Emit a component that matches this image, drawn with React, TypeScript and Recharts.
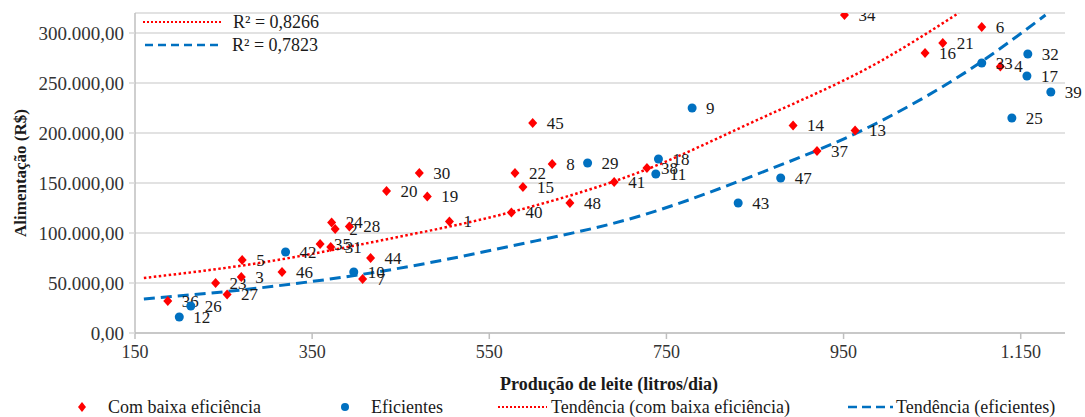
import { ComposedChart, Scatter, Line, XAxis, YAxis, CartesianGrid } from 'recharts';

// farms with low efficiency (red diamonds)
const lowIds = [36, 23, 27, 3, 5, 46, 35, 31, 24, 2, 28, 44, 7, 20, 30, 19, 1, 45, 8, 22, 15, 40, 41, 38, 48, 14, 37, 13, 34, 16, 21, 6, 4];
const lowX = [187, 241, 254, 270, 271, 316, 359, 371, 372, 376, 392, 416, 407, 434, 471, 480, 505, 599, 621, 579, 588, 575, 691, 728, 641, 893, 920, 963, 951, 1042, 1062, 1106, 1127];
const lowY = [32000, 50000, 38500, 56000, 73000, 61000, 89000, 86000, 110500, 104000, 106500, 75000, 54000, 142000, 160000, 136500, 111500, 210000, 169000, 160000, 146000, 120500, 151000, 165000, 130000, 207500, 182000, 202500, 318000, 280000, 290000, 306000, 266500];

// efficient farms (blue circles)
const effIds = [12, 26, 42, 10, 29, 11, 18, 9, 43, 47, 33, 32, 17, 39, 25];
const effX = [200, 213, 320, 397, 661, 738, 741, 779, 831, 879, 1106, 1158, 1157, 1184, 1140];
const effY = [16000, 27000, 81000, 61000, 170000, 159000, 174000, 225000, 130000, 155000, 270000, 279000, 257000, 241000, 215000];

// trend lines
const lowTrendX = [160, 290, 430, 575, 720, 850, 990, 1080];
const lowTrendY = [55000, 70000, 93000, 121000, 161000, 212000, 271000, 320000];
const effTrendX = [160, 290, 430, 575, 720, 850, 990, 1090, 1178];
const effTrendY = [34000, 45000, 62000, 87000, 117000, 158000, 211000, 262000, 318000];

const xTicks = [150, 350, 550, 750, 950, 1150];
const yTicks = [0, 50000, 100000, 150000, 200000, 250000, 300000];

const lowData = lowIds.map((id, i) => ({ id, x: lowX[i], y: lowY[i] }));
const effData = effIds.map((id, i) => ({ id, x: effX[i], y: effY[i] }));
const lowTrend = lowTrendX.map((x, i) => ({ x, y: lowTrendY[i] }));
const effTrend = effTrendX.map((x, i) => ({ x, y: effTrendY[i] }));

const RED = '#ff0000';
const BLUE = '#0070c0';
const FONT = '"Liberation Serif", "Times New Roman", serif';

const dots = (v: number) => String(v).replace(/\B(?=(\d{3})+(?!\d))/g, '.');
const fmtY = (v: number) => dots(v) + ',00';

const DiamondPoint = (p: any) => {
    const { cx, cy, payload } = p;
    return (
        <g>
            <path d={`M${cx},${cy - 5}L${cx + 4.5},${cy}L${cx},${cy + 5}L${cx - 4.5},${cy}Z`} fill={RED} />
            <text x={cx + 14} y={cy} dy="0.35em" fontSize={17} fontFamily={FONT} fill="#1a1a1a">{payload.id}</text>
        </g>
    );
};

const CirclePoint = (p: any) => {
    const { cx, cy, payload } = p;
    return (
        <g>
            <circle cx={cx} cy={cy} r={4.5} fill={BLUE} />
            <text x={cx + 14} y={cy} dy="0.35em" fontSize={17} fontFamily={FONT} fill="#1a1a1a">{payload.id}</text>
        </g>
    );
};

export default function App() {
    return (
        <div style={{ position: 'absolute', left: 0, top: 0, width: 1085, height: 417, background: '#fff', fontFamily: FONT }}>
            <ComposedChart width={1085} height={417} margin={{ top: 13, right: 20, left: 0, bottom: 24 }}>
                <CartesianGrid vertical={false} stroke="#d9d9d9" strokeWidth={1.5} />
                <XAxis
                    type="number"
                    dataKey="x"
                    domain={[150, 1200]}
                    ticks={xTicks}
                    tickFormatter={dots}
                    height={60}
                    stroke="#bfbfbf"
                    strokeWidth={1.5}
                    tickSize={6}
                    tickMargin={6}
                    tick={{ fill: '#333', fontSize: 18, fontFamily: FONT }}
                    label={{ value: 'Produção de leite (litros/dia)', position: 'insideBottom', offset: 3, fill: '#1a1a1a', fontSize: 18, fontWeight: 700, fontFamily: FONT, dx: 9 }}
                />
                <YAxis
                    type="number"
                    dataKey="y"
                    domain={[0, 320000]}
                    ticks={yTicks}
                    tickFormatter={fmtY}
                    width={135}
                    stroke="#bfbfbf"
                    strokeWidth={1.5}
                    tickLine={{ stroke: '#d9d9d9' }}
                    tickSize={6}
                    tickMargin={5}
                    allowDataOverflow
                    tick={{ fill: '#333', fontSize: 19, fontFamily: FONT }}
                    label={{ value: 'Alimentação (R$)', angle: -90, position: 'insideLeft', offset: 20, fill: '#1a1a1a', fontSize: 17, fontWeight: 700, fontFamily: FONT, style: { textAnchor: 'middle' } }}
                />
                <Line data={lowTrend} dataKey="y" type="monotone" stroke={RED} strokeWidth={2.5} strokeDasharray="2.5 2.5" dot={false} activeDot={false} isAnimationActive={false} />
                <Line data={effTrend} dataKey="y" type="monotone" stroke={BLUE} strokeWidth={3} strokeDasharray="11 6" dot={false} activeDot={false} isAnimationActive={false} />
                <Scatter name="Com baixa eficiência" data={lowData} dataKey="y" shape={DiamondPoint} isAnimationActive={false} />
                <Scatter name="Eficientes" data={effData} dataKey="y" shape={CirclePoint} isAnimationActive={false} />
            </ComposedChart>

            {/* R² box, top left of the plot */}
            <svg width={360} height={60} style={{ position: 'absolute', left: 0, top: 0 }}>
                <line x1={143} y1={22} x2={222} y2={22} stroke={RED} strokeWidth={2} strokeDasharray="2 2" />
                <text x={233} y={22} dy="0.35em" fontSize={18} fontFamily={FONT} fill="#1a1a1a">R² = 0,8266</text>
                <line x1={145} y1={45} x2={222} y2={45} stroke={BLUE} strokeWidth={2.5} strokeDasharray="8 5" />
                <text x={232} y={45} dy="0.35em" fontSize={18} fontFamily={FONT} fill="#1a1a1a">R² = 0,7823</text>
            </svg>

            {/* legend */}
            <svg width={1085} height={24} style={{ position: 'absolute', left: 0, top: 395 }}>
                <path d="M82,7L86,12L82,17L78,12Z" fill={RED} />
                <text x={108} y={12} dy="0.35em" fontSize={18} fontFamily={FONT} fill="#1a1a1a">Com baixa eficiência</text>
                <circle cx={345} cy={12} r={4} fill={BLUE} />
                <text x={371} y={12} dy="0.35em" fontSize={18} fontFamily={FONT} fill="#1a1a1a">Eficientes</text>
                <line x1={498} y1={12} x2={547} y2={12} stroke={RED} strokeWidth={2} strokeDasharray="2 2" />
                <text x={551} y={12} dy="0.35em" fontSize={18} fontFamily={FONT} fill="#1a1a1a">Tendência (com baixa eficiência)</text>
                <line x1={848} y1={12} x2={893} y2={12} stroke={BLUE} strokeWidth={2.5} strokeDasharray="9 5" />
                <text x={896} y={12} dy="0.35em" fontSize={18} fontFamily={FONT} fill="#1a1a1a">Tendência (eficientes)</text>
            </svg>
        </div>
    );
}
